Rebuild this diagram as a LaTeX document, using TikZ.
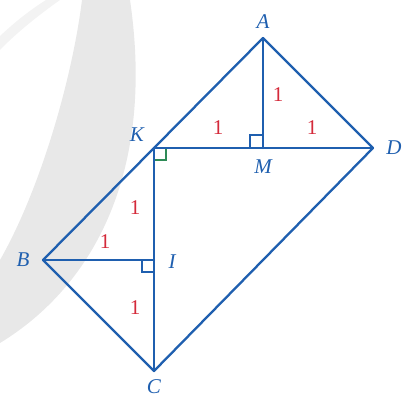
\documentclass[tikz,border=0pt]{standalone}
\usepackage{fontspec}
\setmainfont{Liberation Serif}
\begin{document}
\begin{tikzpicture}[x=1pt,y=-1pt,
  seg/.style={draw=figblue,line width=2.3pt,line join=round,line cap=round},
  ramark/.style={line width=1.6pt},
  lbl/.style={text=figblue,font=\fontsize{21}{21}\selectfont\itshape,inner sep=0pt},
  num/.style={text=numred,font=\fontsize{21}{21}\selectfont,inner sep=0pt}]
\definecolor{figblue}{HTML}{1F5FAF}
\definecolor{numred}{HTML}{D42A3A}
\definecolor{markgreen}{HTML}{2E8B57}
\definecolor{wmgray}{HTML}{E8E8E8}
\definecolor{wmlight}{HTML}{F3F3F3}
\useasboundingbox (0,0) rectangle (413,399);
% watermark
\fill[wmgray] (82,0) .. controls (72,80) and (40,190) .. (0,260) -- (0,343)
  .. controls (95,285) and (155,170) .. (130,0) -- cycle;
\fill[wmlight] (0,36) .. controls (15,22) and (30,10) .. (46,0) -- (60,0)
  .. controls (40,14) and (15,34) .. (0,50) -- cycle;
% points
\coordinate (A) at (263,38);
\coordinate (K) at (154,148);
\coordinate (M) at (263,148);
\coordinate (D) at (373,148);
\coordinate (B) at (43,260);
\coordinate (I) at (154,260);
\coordinate (C) at (154,371);
% right angle marks
\draw[ramark,draw=markgreen] ([xshift=12]K) -- ++(0,12) -- ++(-12,0);
\draw[ramark,draw=figblue] ([xshift=-13]M) -- ++(0,-13) -- ++(13,0);
\draw[ramark,draw=figblue] ([xshift=-12]I) -- ++(0,12) -- ++(12,0);
% segments
\draw[seg] (A) -- (D) -- (C) -- (B) -- (K) -- (A);
\draw[seg] (A) -- (M);
\draw[seg] (K) -- (D);
\draw[seg] (K) -- (C);
\draw[seg] (B) -- (I);
% labels
\node[lbl] (lA) at (263,22) {A};
\node[lbl] (lK) at (137,135) {K};
\node[lbl] (lD) at (394,148) {D};
\node[lbl] (lM) at (263,167) {M};
\node[lbl] (lB) at (23,260) {B};
\node[lbl] (lI) at (172,262) {I};
\node[lbl] (lC) at (154,387) {C};
% numbers
\node[num] (n1) at (278,95) {1};
\node[num] (n2) at (218,128) {1};
\node[num] (n3) at (312,128) {1};
\node[num] (n4) at (135,208) {1};
\node[num] (n5) at (105,242) {1};
\node[num] (n6) at (135,308) {1};
\end{tikzpicture}
\end{document}
